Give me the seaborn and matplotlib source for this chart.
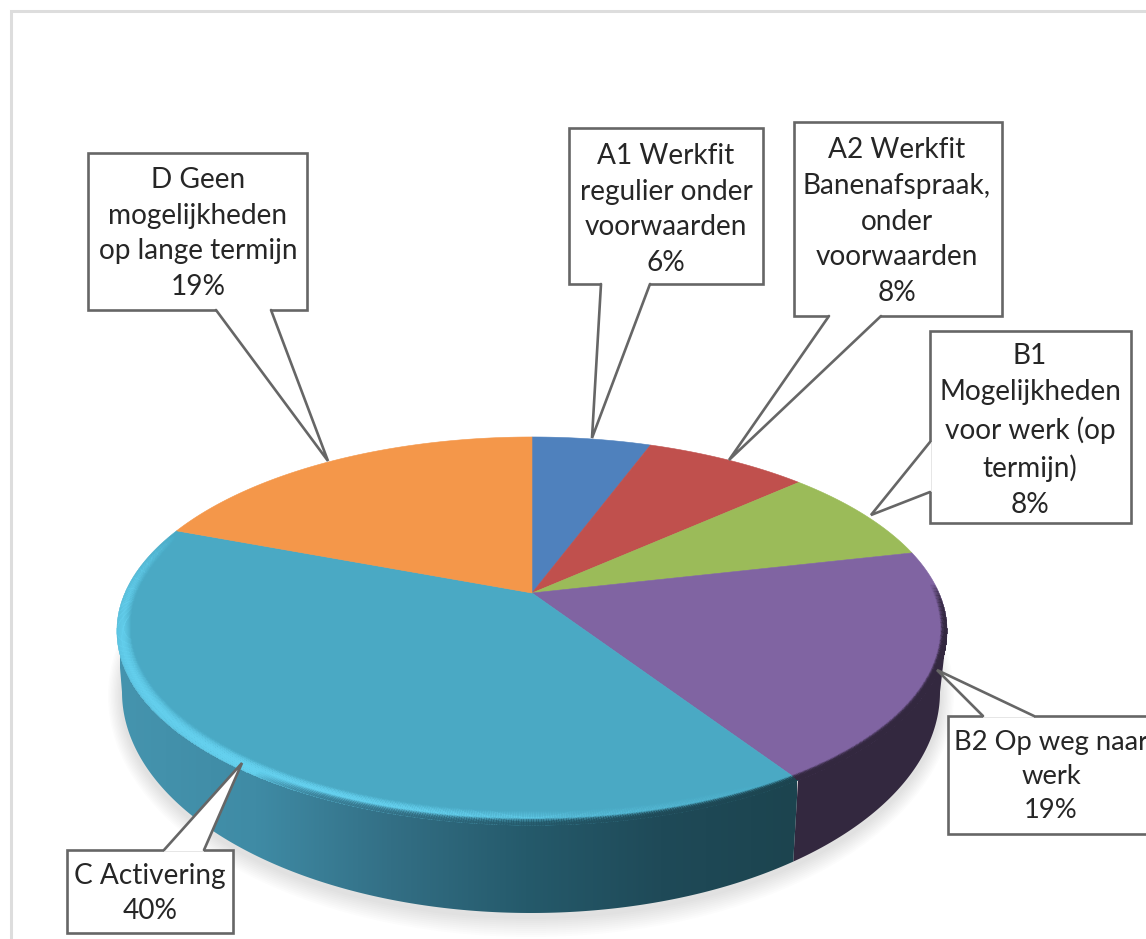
import numpy as np
import matplotlib
matplotlib.use("Agg")
import matplotlib.pyplot as plt
import seaborn as sns
from matplotlib.collections import PolyCollection
from matplotlib.patches import Ellipse, Polygon

# slice sizes, the callouts print them rounded
categories = [
    "A1 Werkfit\nregulier onder\nvoorwaarden",
    "A2 Werkfit\nBanenafspraak,\nonder\nvoorwaarden",
    "B1\nMogelijkheden\nvoor werk (op\ntermijn)",
    "B2 Op weg naar\nwerk",
    "C Activering",
    "D Geen\nmogelijkheden\nop lange termijn",
]
shares = [5.6, 7.7, 8.1, 19.4, 40.0, 19.2]

face_colors = ["#4f81bd", "#c0504d", "#9bbb59", "#8064a2", "#4aa9c4", "#f4974a"]

# callout layout in picture pixels: box (left, top, right, bottom), pointer outline, text centre, font size
callouts = [
    ((569, 128, 763, 284), [(650, 284), (592, 438), (601, 284)], (666, 209.5), 20.2),
    ((794, 122, 1002, 316), [(881, 316), (729, 460), (829, 316)], (897, 221.5), 20.2),
    ((930, 331, 1131, 523), [(930, 492), (871, 515), (930, 442)], (1030, 430.5), 20.2),
    ((948, 716, 1200, 834), [(983, 716), (937, 670), (1034, 716)], (1051, 776.5), 19.7),
    ((67, 850, 233, 933), [(164, 850), (242, 763), (204, 850)], (150, 893.5), 20.2),
    ((88, 153, 307, 310), [(216, 310), (328, 461), (271, 310)], (198, 233.5), 20.2),
]

sns.set_theme(style="white")
plt.rcParams["font.family"] = ["Lato", "DejaVu Sans"]

APEX_X, APEX_Y = 532, 593
PERSP, RX, RY = 0.196, 407, 186.6
BOTTOM_X, BOTTOM_Y, BOTTOM_RX, BOTTOM_RY = 531, 692, 409, 221
FRONT_RIGHT, FRONT_LEFT = 101.3, 258.7
EDGE = "#666666"


def rim(theta, rho=1.0):
    # clockwise degrees from the back of the disc, with a bit of perspective
    t = np.radians(theta)
    u, v = rho * np.sin(t), rho * np.cos(t)
    w = 1 + PERSP * v
    return APEX_X + RX * u / w, APEX_Y - RY * v / w


def bottom_rim(theta):
    x, _ = rim(theta)
    dx = np.clip((x - APEX_X) / 415, -1, 1)
    return BOTTOM_X + dx * BOTTOM_RX, BOTTOM_Y + BOTTOM_RY * np.sqrt(1 - dx ** 2)


def rim_band(ax, theta, inset_out, inset_in, colors, alpha):
    # band just inside the rim, inset measured at the front and narrower at the sides
    squeeze = np.interp(np.abs(theta - 180), [0, 90], [1, 0.6])
    xo, yo = rim(theta, 1 - inset_out * squeeze)
    xi, yi = rim(theta, 1 - inset_in * squeeze)
    quads = np.stack([np.column_stack([xo[:-1], yo[:-1]]), np.column_stack([xo[1:], yo[1:]]),
                      np.column_stack([xi[1:], yi[1:]]), np.column_stack([xi[:-1], yi[:-1]])], axis=1)
    rgba = np.array(colors, dtype=float)[:-1].copy()
    rgba[:, 3] = alpha[:-1]
    ax.add_collection(PolyCollection(quads, facecolors=rgba, edgecolors="none", antialiaseds=False, zorder=4))


def soft_bevel(ax, theta, colors, alpha, stops, strength):
    # thin slices through the profile so no ring edge shows
    insets = np.linspace(stops[0], stops[-1], 17)
    for a, b in zip(insets[:-1], insets[1:]):
        k = np.interp((a + b) / 2, stops, strength)
        rim_band(ax, theta, a, b, colors, alpha * k)


fig = plt.figure(figsize=(11.46, 9.39), dpi=100)
ax = fig.add_axes([0, 0, 1, 1])
ax.set_xlim(0, 1146)
ax.set_ylim(939, 0)
ax.axis("off")

# grey frame of the pasted chart
ax.plot([11, 11, 1146], [939, 11, 11], color="#dddddd", lw=2.2, solid_joinstyle="miter", zorder=1)

# soft shadow under the disc
for grow in np.arange(20, 0, -2):
    ax.add_patch(Ellipse((BOTTOM_X, BOTTOM_Y + 4), 2 * (BOTTOM_RX + grow * 0.7), 2 * (BOTTOM_RY + grow),
                         facecolor="black", edgecolor="none", alpha=0.013, zorder=1.5))

edges = np.concatenate([[0], np.cumsum(shares)]) / np.sum(shares) * 360

# side wall: only the slices that reach the front half
side_cmap = sns.blend_palette(["#4594ae", "#3f8ba5", "#336f85", "#255a6b", "#1f4a58", "#1c444f"], as_cmap=True)
side_norm = plt.Normalize(120, 797)
for i, flat in [(3, "#33283f"), (4, None)]:
    lo, hi = max(edges[i], FRONT_RIGHT), min(edges[i + 1], FRONT_LEFT)
    th = np.linspace(lo, hi, 200)
    tx, ty = rim(th)
    bx, by = bottom_rim(th)
    outline = np.column_stack([np.r_[tx, bx[::-1]], np.r_[ty, by[::-1]]])
    wall = Polygon(outline, closed=True, facecolor=flat or "none", edgecolor="none", zorder=2)
    ax.add_patch(wall)
    if flat is None:
        grad = ax.imshow(np.linspace(0, 1, 256).reshape(1, -1), cmap=side_cmap, aspect="auto",
                         extent=(120, 797, 939, 600), zorder=2)
        grad.set_clip_path(wall)
ax.set_xlim(0, 1146)
ax.set_ylim(939, 0)

# top face
for i, color in enumerate(face_colors):
    th = np.linspace(edges[i], edges[i + 1], 120)
    x, y = rim(th)
    ax.fill(np.r_[APEX_X, x], np.r_[APEX_Y, y], facecolor=color, edgecolor=color, lw=0.4, zorder=3)

# bevel on the front rim
c_th = np.linspace(edges[4], edges[5], 500)
light_rgba = np.tile([*matplotlib.colors.to_rgb("#66d2f0"), 1.0], (len(c_th), 1))
glow = np.interp(c_th, [edges[4], 175, 205, 230, 258, edges[5]], [0.0, 0.2, 0.85, 0.5, 0.4, 0.0])
soft_bevel(ax, c_th, light_rgba, glow, [0.0, 0.02, 0.05], [0.6, 1.0, 0.0])

cx, _ = rim(c_th)
dark_rgba = side_cmap(side_norm(cx))
fade = np.interp(c_th, [edges[4], 175, 205, 215], [1, 0.9, 0.5, 0])
soft_bevel(ax, c_th, dark_rgba, fade, [0.0, 0.024], [0.9, 0.0])

b_th = np.linspace(edges[3] + 10, edges[4], 250)
b_rgba = np.tile([*matplotlib.colors.to_rgb("#33283f"), 1.0], (len(b_th), 1))
b_fade = np.interp(b_th, [edges[3] + 10, FRONT_RIGHT + 8, edges[4]], [0, 1, 1])
soft_bevel(ax, b_th, b_rgba, b_fade, [0.0, 0.024], [0.9, 0.0])

# callouts
for name, share, (box, pointer, centre, size) in zip(categories, shares, callouts):
    left, top, right, bottom = box
    rect = [(left, top), (right, top), (right, bottom), (left, bottom)]
    ax.add_patch(Polygon(rect, closed=True, facecolor="white", edgecolor=EDGE, lw=1.9,
                         joinstyle="miter", zorder=5))
    ax.add_patch(Polygon(pointer, closed=True, facecolor="white", edgecolor="none", zorder=5.1))
    ax.plot([pointer[0][0], pointer[2][0]], [pointer[0][1], pointer[2][1]], color="white", lw=2.6,
            solid_capstyle="butt", zorder=5.15)
    ax.plot(*zip(*pointer), color=EDGE, lw=1.9, solid_joinstyle="miter", zorder=5.2)
    ax.text(centre[0], centre[1], f"{name}\n{share:.0f}%", ha="center", va="center", ma="center",
            fontsize=size, color="#262626", linespacing=1.47, zorder=6)

fig.savefig("out.png", dpi=100)
plt.close(fig)
